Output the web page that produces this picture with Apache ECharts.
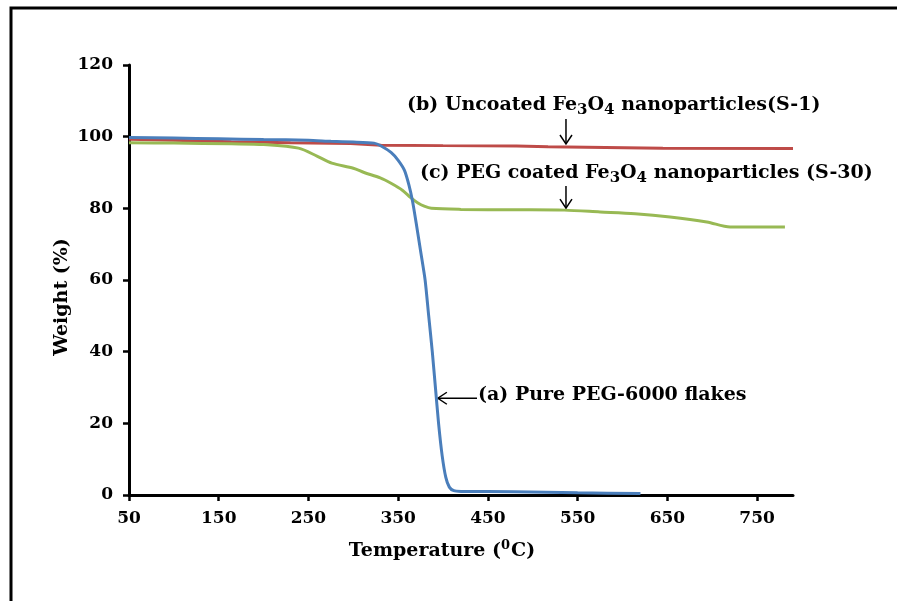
<!DOCTYPE html>
<html><head><meta charset="utf-8">
<script src="https://cdn.jsdelivr.net/npm/echarts@6/dist/echarts.min.js"></script>
<style>html,body{margin:0;padding:0;background:#fff}#c{width:897px;height:601px}</style>
</head><body><div id="c"></div>
<script>
// Data
const tempA = [50, 100, 150, 200, 250, 275, 300, 323, 331, 342, 350, 357, 362, 366, 370, 375, 380, 384, 388, 391.5, 395, 399, 403, 407, 412, 420, 479, 550, 620];
const weightA = [99.8, 99.6, 99.4, 99.2, 99.0, 98.7, 98.5, 98.2, 97.4, 95.6, 93.4, 90.6, 86.5, 82, 76, 68, 60, 50, 40, 30, 20, 11, 5, 2.2, 1.2, 1.0, 0.9, 0.6, 0.4];
const tempB = [50, 100, 164, 230, 297, 331, 400, 482, 517, 645, 790];
const weightB = [99.3, 99.0, 98.6, 98.3, 98.1, 97.6, 97.5, 97.4, 97.2, 96.8, 96.7];
const tempC = [50, 100, 164, 200, 239, 260, 276, 300, 312, 330, 342, 355, 364, 372, 379, 387, 420, 480, 535, 575, 614, 653, 694, 720, 760, 781];
const weightC = [98.3, 98.2, 98.0, 97.8, 96.8, 94.5, 92.6, 91.2, 90.0, 88.5, 87.0, 85.0, 83.0, 81.5, 80.6, 80.0, 79.7, 79.6, 79.5, 79.0, 78.5, 77.6, 76.2, 74.8, 74.8, 74.8];
const xTicks = [50, 150, 250, 350, 450, 550, 650, 750];
const yTicks = [0, 20, 40, 60, 80, 100, 120];

const FONT = '"DejaVu Serif", "Liberation Serif", serif';
const zip = (a, b) => a.map((v, i) => [v, b[i]]);
const chart = echarts.init(document.getElementById('c'));
const axisLine = { show: true, lineStyle: { color: '#000', width: 3 } };
chart.setOption({
  animation: false,
  grid: { left: 129, right: 104, top: 65, bottom: 106 },
  xAxis: {
    type: 'value', min: 50, max: 790,
    axisLine: axisLine,
    axisTick: { show: true, inside: false, length: 6, lineStyle: { color: '#000', width: 2.5 }, customValues: xTicks },
    axisLabel: { customValues: xTicks, color: '#000', fontFamily: FONT, fontWeight: 'bold', fontSize: 17, margin: 15 },
    splitLine: { show: false }
  },
  yAxis: {
    type: 'value', min: 0, max: 120, interval: 20,
    axisLine: axisLine,
    axisTick: { show: true, length: 6, lineStyle: { color: '#000', width: 2.5 }, customValues: yTicks },
    axisLabel: { customValues: yTicks, color: '#000', fontFamily: FONT, fontWeight: 'bold', fontSize: 17, margin: 16 },
    splitLine: { show: false }
  },
  series: [
    { type: 'line', data: zip(tempA, weightA), symbol: 'none', smooth: 0.2, lineStyle: { color: '#4a7ebb', width: 3 }, z: 3 },
    { type: 'line', data: zip(tempB, weightB), symbol: 'none', lineStyle: { color: '#be4b48', width: 3 }, z: 2 },
    { type: 'line', data: zip(tempC, weightC), symbol: 'none', smooth: 0.3, lineStyle: { color: '#98b954', width: 3 }, z: 2 }
  ]
});

function px(t, w) { return chart.convertToPixel({ gridIndex: 0 }, [t, w]); }
const rich = {
  n: { fontFamily: FONT, fontWeight: 'bold', fontSize: 19, color: '#000' },
  s: { fontFamily: FONT, fontWeight: 'bold', fontSize: 15, color: '#000', padding: [10, 0, 0, 0] },
  u: { fontFamily: FONT, fontWeight: 'bold', fontSize: 13, color: '#000', padding: [0, 1, 10, 0] }
};
function arrowDown(x, y1, y2) {
  return [
    { type: 'line', shape: { x1: x, y1: y1, x2: x, y2: y2 }, style: { stroke: '#000', lineWidth: 1.5 } },
    { type: 'polyline', shape: { points: [[x - 6, y2 - 9], [x, y2], [x + 6, y2 - 9]] }, style: { stroke: '#000', lineWidth: 1.5, fill: null } }
  ];
}
const pb = px(537, 97.4), pc = px(537, 79.5), pa = px(392, 27);
const graphics = [
  { type: 'rect', shape: { x: 11, y: 8, width: 900, height: 620 }, style: { stroke: '#000', lineWidth: 3, fill: null }, z: 10 },
  { type: 'text', x: 407, y: 105, style: { text: '{n|(b) Uncoated Fe}{s|3}{n|O}{s|4}{n| nanoparticles(S-1)}', rich: rich, verticalAlign: 'middle' } },
  { type: 'text', x: 420, y: 173, style: { text: '{n|(c) PEG coated Fe}{s|3}{n|O}{s|4}{n| nanoparticles (S-30)}', rich: rich, verticalAlign: 'middle' } },
  { type: 'text', x: 478, y: 395, style: { text: '{n|(a) Pure PEG-6000 flakes}', rich: rich, verticalAlign: 'middle' } },
  ...arrowDown(pb[0], 119, pb[1] - 2),
  ...arrowDown(pc[0], 186, pc[1] - 2),
  { type: 'line', shape: { x1: pa[0] + 2, y1: pa[1], x2: 477, y2: pa[1] }, style: { stroke: '#000', lineWidth: 1.5 } },
  { type: 'polyline', shape: { points: [[pa[0] + 11, pa[1] - 6], [pa[0] + 2, pa[1]], [pa[0] + 11, pa[1] + 6]] }, style: { stroke: '#000', lineWidth: 1.5, fill: null } },
  { type: 'text', x: 442, y: 551, style: { text: '{n|Temperature (}{u|0}{n|C)}', rich: rich, align: 'center', verticalAlign: 'middle' } },
  { type: 'text', x: 62, y: 297, rotation: Math.PI / 2, style: { text: '{n|Weight (%)}', rich: rich, align: 'center', verticalAlign: 'middle' } }
];
chart.setOption({ graphic: graphics });
</script></body></html>
